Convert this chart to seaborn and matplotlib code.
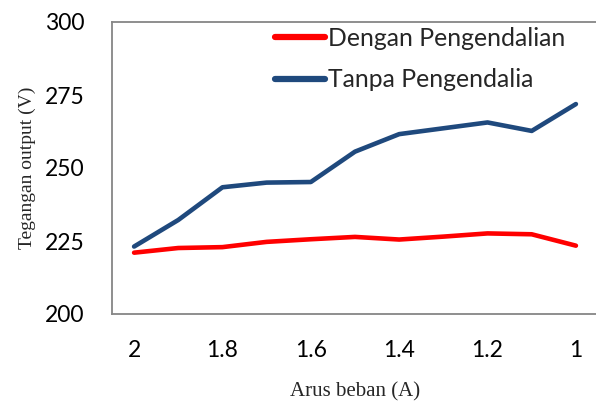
import numpy as np
import pandas as pd
import matplotlib
matplotlib.use("Agg")
import matplotlib.pyplot as plt
import seaborn as sns

# ---- data
arus = [2.0, 1.9, 1.8, 1.7, 1.6, 1.5, 1.4, 1.3, 1.2, 1.1, 1.0]
dengan = [221.0, 222.6, 222.9, 224.7, 225.6, 226.4, 225.5, 226.5, 227.6, 227.3, 223.4]
tanpa = [223.1, 232.2, 243.4, 245.0, 245.2, 255.6, 261.6, 263.6, 265.6, 262.7, 271.9]
series_names = ["Dengan Pengendalian", "Tanpa Pengendalia"]
x_ticks = [2, 1.8, 1.6, 1.4, 1.2, 1]
x_ticklabels = ["2", "1.8", "1.6", "1.4", "1.2", "1"]
y_ticks = [200, 225, 250, 275, 300]

df = pd.DataFrame({
    "arus": arus * 2,
    "tegangan": dengan + tanpa,
    "seri": [series_names[0]] * len(arus) + [series_names[1]] * len(arus),
})

sns.set_style("white")
plt.rcParams["font.family"] = ["Lato", "DejaVu Sans"]

fig = plt.figure(figsize=(5.96, 4.03), dpi=100)
W, H = 596, 403
ax = fig.add_axes([112 / W, 1 - 314 / H, (598 - 112) / W, (314 - 22) / H])

sns.lineplot(
    data=df, x="arus", y="tegangan", hue="seri",
    palette={series_names[0]: "#FF0000", series_names[1]: "#1F497D"},
    linewidth=3.3, ax=ax, legend=True,
)
for ln in ax.lines:
    ln.set_solid_capstyle("round")
    ln.set_solid_joinstyle("round")

ax.set_xlim(2.05, 0.95)
ax.set_ylim(200, 300)
ax.set_xticks(x_ticks)
ax.set_xticklabels(x_ticklabels)
ax.set_yticks(y_ticks)
ax.tick_params(axis="both", length=0, labelsize=16.5, colors="#000000")
ax.tick_params(axis="x", pad=19)
ax.tick_params(axis="y", pad=20)

for s in ax.spines.values():
    s.set_color("#868686")
    s.set_linewidth(1.3)

ax.set_xlabel("Arus beban (A)", family=["Liberation Serif"], fontsize=15)
ax.xaxis.set_label_coords(0.5, -0.235)
ax.set_ylabel("Tegangan output (V)", family=["Liberation Serif"], fontsize=14, labelpad=6)

leg = ax.legend(
    loc="upper left", bbox_to_anchor=(0.29, 1.06), frameon=False,
    fontsize=17.8, handlelength=2.0, handletextpad=0.15, labelspacing=0.75,
)
for h in leg.get_lines():
    h.set_linewidth(4.5)
    h.set_solid_capstyle("round")

fig.savefig("out.png", dpi=100)
